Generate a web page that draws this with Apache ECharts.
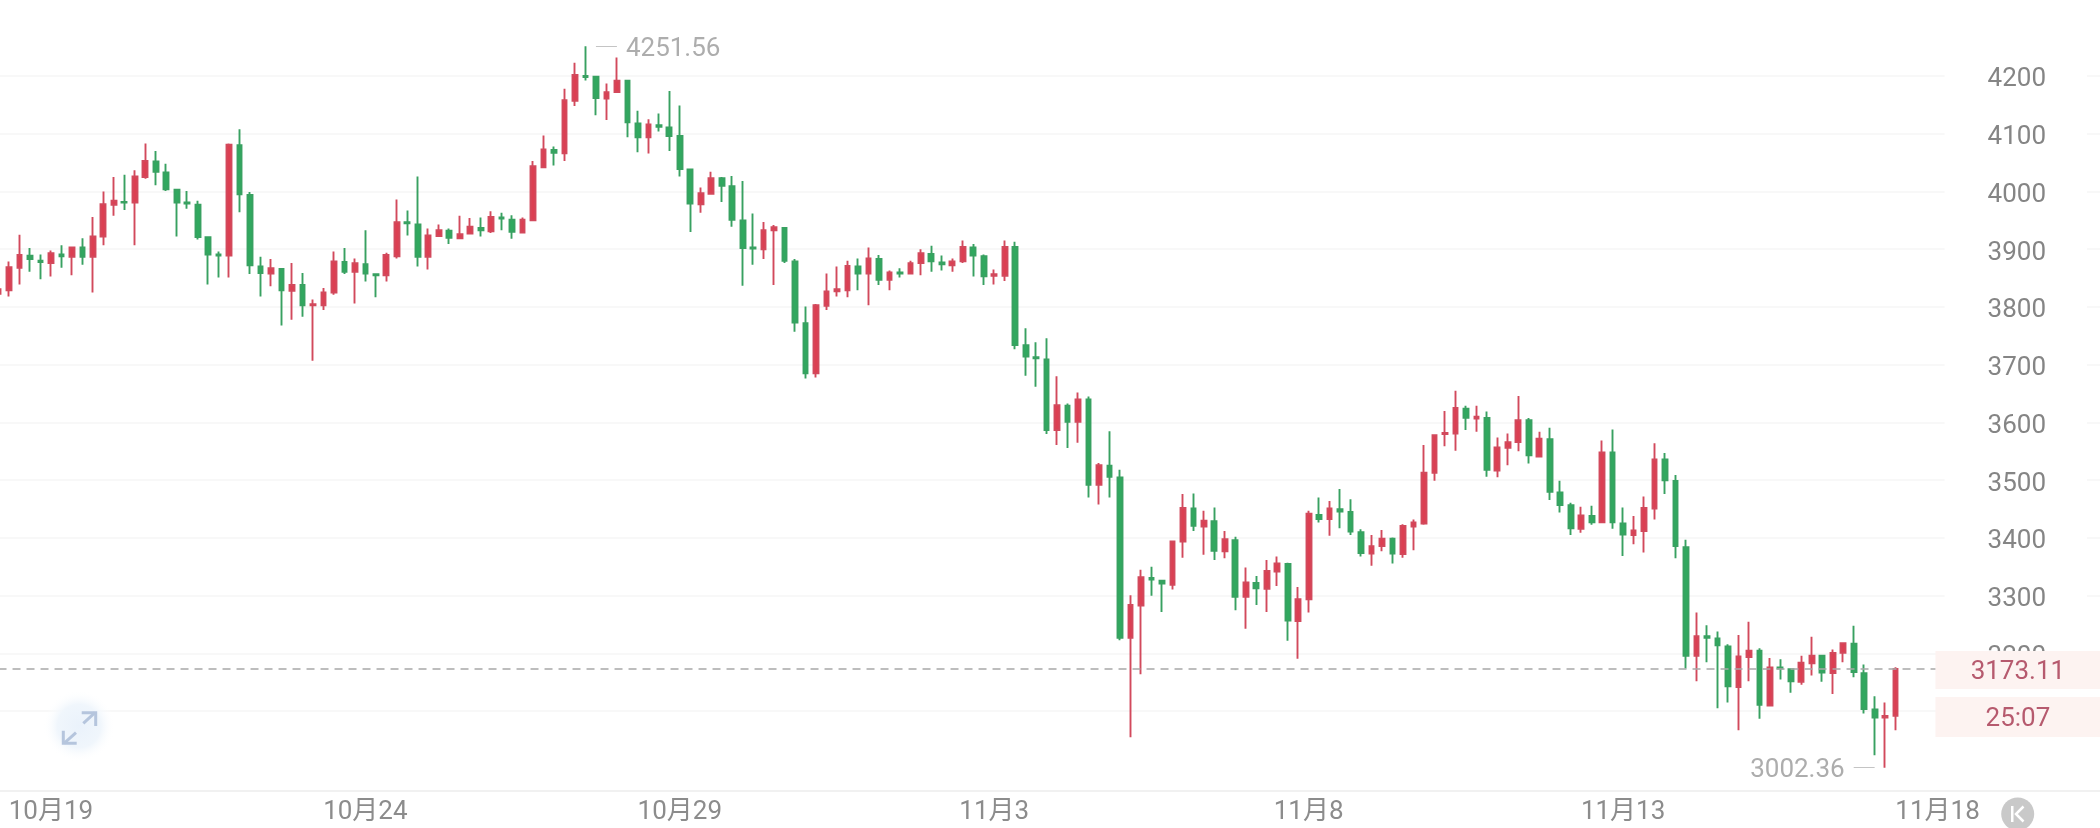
<!DOCTYPE html>
<html>
<head>
<meta charset="utf-8">
<style>html,body{margin:0;padding:0;background:#fff}#c{width:2100px;height:828px}</style>
<script src="https://cdn.jsdelivr.net/npm/echarts@6/dist/echarts.min.js"></script>
</head>
<body>
<div id="c"></div>
<script>
const opens = [3823,
3829,3868,3889,3880,3876,3891,3887,3903,3887,3922,
3977,3982,3981,4025,4052,4033,4003,3981,3977,3921,
3891,3889,4080,3994,3870,3858,3866,3828,3838,3803,
3803,3825,3878,3861,3874,3857,3855,3888,3947,3943,
3887,3923,3932,3919,3927,3937,3931,3955,3951,3929,
3950,4042,4072,4066,4157,4200,4199,4161,4172,4192,
4118,4094,4115,4111,4096,4038,3978,3996,4023,4009,
3950,3903,3900,3933,3937,3879,3772,3685,3802,3827,
3829,3870,3858,3883,3847,3860,3858,3876,3892,3877,
3872,3879,3903,3888,3854,3854,3904,3734,3713,3709,
3587,3629,3601,3640,3492,3525,3505,3227,3283,3331,
3326,3319,3394,3451,3420,3429,3377,3396,3298,3322,
3312,3342,3355,3256,3294,3440,3433,3450,3445,3410,
3373,3386,3399,3372,3420,3425,3513,3580,3581,3624,
3607,3608,3517,3556,3566,3604,3541,3571,3479,3457,
3416,3438,3427,3548,3425,3405,3412,3451,3536,3499,
3384,3196,3230,3226,3212,3142,3194,3205,3110,3176,
3173,3151,3183,3196,3166,3201,3217,3166,3103,3089,3092];
const closes = [3831,
3869,3890,3883,3878,3893,3888,3903,3887,3922,3978,
3984,3981,4026,4053,4034,4004,3981,3979,3921,3891,
3889,4081,3995,3872,3859,3867,3829,3838,3803,3805,
3825,3879,3861,3876,3858,3855,3890,3947,3945,3887,
3924,3933,3920,3926,3939,3933,3956,3953,3930,3951,
4044,4073,4067,4158,4202,4198,4162,4172,4192,4120,
4094,4116,4112,4096,4039,3979,3997,4023,4010,3951,
3902,3901,3933,3938,3880,3773,3685,3803,3827,3831,
3871,3858,3884,3847,3860,3858,3876,3893,3879,3874,
3879,3904,3889,3853,3857,3904,3734,3714,3711,3587,
3630,3601,3640,3492,3526,3506,3227,3284,3332,3328,
3321,3394,3452,3421,3430,3378,3398,3298,3323,3313,
3343,3356,3257,3294,3442,3433,3451,3446,3411,3374,
3386,3399,3373,3421,3427,3513,3578,3582,3625,3608,
3610,3518,3557,3566,3604,3543,3572,3480,3457,3417,
3439,3427,3548,3427,3406,3413,3452,3536,3500,3386,
3196,3230,3227,3214,3143,3195,3205,3111,3176,3174,
3152,3184,3196,3167,3201,3218,3168,3104,3089,3092,3173.11];
const lows = [3815,
3818,3839,3861,3848,3853,3868,3855,3873,3825,3907,
3958,3968,3907,4022,4011,4001,3922,3970,3917,3839,
3851,3851,3964,3857,3818,3836,3768,3778,3783,3707,
3795,3821,3857,3806,3844,3817,3844,3884,3924,3870,
3865,3922,3909,3918,3926,3922,3928,3933,3918,3928,
3949,4041,4045,4053,4148,4192,4132,4124,4171,4094,
4068,4066,4104,4070,4026,3930,3963,3995,3982,3939,
3837,3873,3883,3838,3876,3757,3676,3678,3795,3818,
3817,3829,3803,3838,3829,3851,3858,3855,3861,3863,
3861,3876,3853,3838,3839,3845,3727,3681,3662,3580,
3561,3556,3565,3470,3458,3470,3223,3055,3164,3300,
3272,3311,3366,3412,3371,3362,3365,3275,3243,3284,
3272,3317,3222,3191,3271,3427,3404,3417,3405,3368,
3352,3377,3356,3366,3379,3423,3499,3559,3551,3587,
3584,3506,3505,3526,3550,3529,3541,3466,3444,3405,
3409,3423,3427,3416,3369,3389,3375,3432,3476,3365,
3174,3152,3185,3105,3115,3067,3152,3087,3110,3155,
3132,3146,3162,3151,3130,3185,3159,3096,3024,3002.36,3067];
const highs = [3841,
3879,3925,3902,3891,3898,3907,3904,3919,3956,4000,
4025,4029,4037,4083,4070,4048,4003,4001,3984,3921,
3896,4083,4108,3999,3887,3883,3866,3876,3859,3813,
3833,3896,3902,3884,3933,3857,3894,3986,3967,4026,
3936,3943,3936,3958,3954,3955,3966,3963,3959,3955,
4053,4097,4078,4178,4223,4251.56,4200,4187,4232,4193,
4140,4125,4135,4174,4149,4040,4007,4034,4025,4027,
4018,3962,3947,3942,3938,3883,3801,3805,3858,3870,
3880,3884,3903,3890,3863,3867,3880,3900,3906,3889,
3884,3915,3909,3891,3865,3915,3913,3763,3739,3746,
3680,3633,3652,3645,3530,3585,3518,3301,3345,3350,
3326,3395,3476,3477,3447,3453,3412,3402,3349,3334,
3362,3368,3357,3315,3447,3470,3464,3485,3467,3415,
3405,3414,3401,3424,3432,3561,3578,3620,3655,3629,
3629,3619,3574,3581,3646,3608,3584,3591,3499,3461,
3454,3456,3569,3588,3453,3438,3472,3564,3547,3509,
3397,3271,3249,3238,3216,3232,3255,3209,3192,3190,
3174,3196,3229,3198,3207,3219,3248,3181,3126,3115,3176];

const dateLabels = ['10月19','10月24','10月29','11月3','11月8','11月13','11月18'];
const yTicks = [3100,3200,3300,3400,3500,3600,3700,3800,3900,4000,4100,4200];
const lastPrice = 3173.11;
const countdown = '25:07';
const highValue = 4251.56;
const lowValue = 3002.36;

const FIRST_LABEL = 5, LABEL_STEP = 30, SLOTS = 201;
const categories = [];
for (let i = 0; i < SLOTS; i++) {
  const k = (i - FIRST_LABEL) / LABEL_STEP;
  categories.push(Number.isInteger(k) && dateLabels[k] ? dateLabels[k] : 'c' + i);
}
const candles = opens.map((o, i) => [o, closes[i], lows[i], highs[i]]);
const highIdx = highs.indexOf(highValue), lowIdx = lows.indexOf(lowValue);

const FONT = "Roboto, 'Noto Sans CJK SC', sans-serif";
const Y_MIN = 2961.9, Y_MAX = 4331.6;
const arrow = '#b5c5dd';
const priceInk = '#b65a6e', boxFill = '#fdf3f1';

function priceBox(offsetY, h) {
  return {coord: [192, lastPrice], label: {show: true, position: 'inside', offset: [7, offsetY], formatter: ' ',
    backgroundColor: boxFill, width: 165, height: h, lineHeight: h, align: 'center', verticalAlign: 'middle'}};
}
function priceText(text, offsetY) {
  return {coord: [192, lastPrice], label: {show: true, position: 'inside', offset: [7, offsetY], formatter: text,
    color: priceInk, fontFamily: FONT, fontSize: 26, align: 'center', verticalAlign: 'middle'}};
}

const chart = echarts.init(document.getElementById('c'), null, {renderer: 'canvas'});
chart.setOption({
  animation: false,
  backgroundColor: '#fff',
  grid: {left: -6.72, right: 0, top: 0, bottom: 37, outerBoundsMode: 'none'},
  xAxis: {
    type: 'category', data: categories, boundaryGap: true,
    axisLine: {lineStyle: {color: '#f1f1f1', width: 2}},
    axisTick: {show: false},
    splitLine: {show: false},
    axisLabel: {
      interval: i => dateLabels.includes(categories[i]),
      formatter: v => dateLabels.includes(v) ? v : '',
      color: '#8c8c8c', fontFamily: FONT, fontSize: 26, margin: 8, hideOverlap: false
    }
  },
  yAxis: [{
    type: 'value', position: 'right', min: Y_MIN, max: Y_MAX, scale: true,
    axisLine: {show: false},
    axisTick: {show: false, customValues: yTicks},
    splitLine: {lineStyle: {color: '#f6f6f6', width: 1.5}, showMinLine: true, showMaxLine: true},
    axisLabel: {
      inside: true, margin: 13, customValues: yTicks, showMinLabel: true, showMaxLabel: true,
      formatter: v => '{v|' + v + '}',
      rich: {v: {color: '#858585', fontFamily: FONT, fontSize: 26, padding: [8, 0, 0, 0]}},
      color: '#858585', fontFamily: FONT, fontSize: 26,
      backgroundColor: '#fff', padding: [2, 41, 2, 43]
    }
  }, {
    type: 'value', position: 'right', offset: 165, min: Y_MIN, max: Y_MAX, scale: true,
    axisLine: {show: true, lineStyle: {color: '#f3f3f3', width: 2}},
    axisTick: {show: false}, axisLabel: {show: false}, splitLine: {show: false}
  }],
  series: [{
    type: 'candlestick', data: candles, barWidth: 5.2,
    itemStyle: {color: '#dc3f52', color0: '#30a95f', borderColor: '#d2495c', borderColor0: '#38a161', borderWidth: 1.9},
    markLine: {
      silent: true, symbol: 'none', animation: false,
      data: [
        [{coord: [0, lastPrice], lineStyle: {color: '#a8a8a8', type: [8, 6], width: 1.5}, label: {show: false}},
         {coord: [185, lastPrice]}],
        [{coord: [highIdx + 1, highValue], lineStyle: {color: '#c4c4c4', type: 'solid', width: 1},
          label: {show: true, position: 'end', formatter: String(highValue), color: '#adadad', fontFamily: FONT, fontSize: 26, distance: 8, offset: [1, 3]}},
         {coord: [highIdx + 3, highValue]}],
        [{coord: [lowIdx - 1, lowValue], lineStyle: {color: '#c4c4c4', type: 'solid', width: 1},
          label: {show: true, position: 'end', formatter: String(lowValue), color: '#adadad', fontFamily: FONT, fontSize: 26, distance: 7, offset: [-2, 3]}},
         {coord: [lowIdx - 3, lowValue]}]
      ]
    },
    markPoint: {
      silent: true, symbol: 'circle', symbolSize: 1, animation: false,
      itemStyle: {color: 'transparent'},
      data: [
        priceBox(1, 38), priceBox(48, 40),
        priceText(String(lastPrice), 3), priceText(countdown, 50)
      ]
    }
  }],
  graphic: [
    {type: 'circle', z: 100, shape: {cx: 79, cy: 726, r: 36}, silent: true,
     style: {fill: {type: 'radial', x: 0.5, y: 0.5, r: 0.5, colorStops: [{offset: 0, color: '#eaf2fb'}, {offset: 0.6, color: '#f0f6fc'}, {offset: 1, color: 'rgba(255,255,255,0)'}]}}},
    {type: 'polyline', z: 101, shape: {points: [[83.3, 723.3], [95, 712.7]]}, style: {stroke: arrow, lineWidth: 3, fill: null}},
    {type: 'polyline', z: 101, shape: {points: [[81.7, 712.7], [95.7, 712.7], [95.7, 726]]}, style: {stroke: arrow, lineWidth: 3, fill: null}},
    {type: 'polyline', z: 101, shape: {points: [[76, 732.7], [64, 743.3]]}, style: {stroke: arrow, lineWidth: 3, fill: null}},
    {type: 'polyline', z: 101, shape: {points: [[63.3, 730.7], [63.3, 743.3], [76.7, 743.3]]}, style: {stroke: arrow, lineWidth: 3, fill: null}},
    {type: 'circle', z: 100, shape: {cx: 2017.7, cy: 814, r: 16.5}, style: {fill: '#c9c9c9'}},
    {type: 'rect', z: 101, shape: {x: 2011, y: 806, width: 2.5, height: 16}, style: {fill: '#fff'}},
    {type: 'polyline', z: 101, shape: {points: [[2023.5, 806.5], [2016, 814], [2023.5, 821.5]]}, style: {stroke: '#fff', lineWidth: 2.5, fill: null}}
  ]
});
</script>
</body>
</html>
